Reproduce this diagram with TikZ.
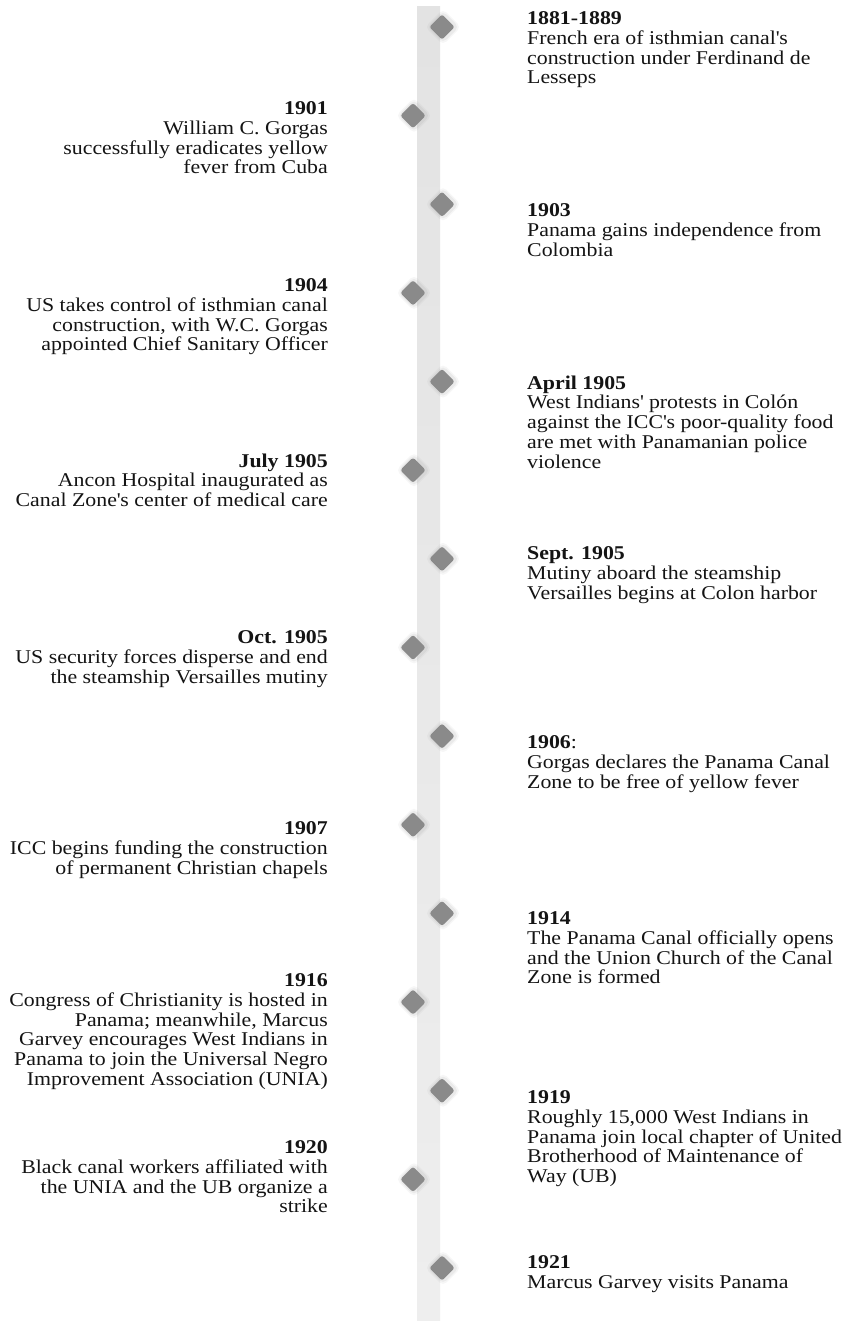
\documentclass[tikz,border=0pt]{standalone}
\usepackage{fontspec}
\setmainfont{Liberation Serif}[FakeStretch=1.12]
\definecolor{bartop}{HTML}{E3E3E3}
\definecolor{barbot}{HTML}{EEEEEE}
\definecolor{gemfill}{HTML}{8A8A8A}
\definecolor{ink}{HTML}{141414}
\newcommand{\ap}{\textquotesingle}
\tikzset{
  evtxt/.style={inner sep=0pt, text=ink, font=\fontsize{19.5}{19.7}\selectfont},
  evR/.style={evtxt, anchor=north west, align=left},
  evL/.style={evtxt, anchor=north east, align=right},
  gem/.style={rectangle, rotate=45, minimum size=18pt, inner sep=0pt, fill=gemfill, rounded corners=2.5pt},
  halo/.style={fill=gemfill, rounded corners=5pt}
}
\begin{document}
\begin{tikzpicture}[x=1pt,y=-1pt]
\useasboundingbox (0,0) rectangle (844,1321);
\fill[white] (0,0) rectangle (844,1321);
% timeline bar
\shade[top color=bartop, bottom color=barbot] (417,7) rectangle (440,1321);
% diamonds
\foreach \i in {0,...,14}{
  \pgfmathsetmacro\yy{27+88.64*\i}
  \pgfmathsetmacro\xx{isodd(\i) ? 413 : 442}
  \fill[halo, opacity=0.07] (\xx+1,\yy-18) -- (\xx+19,\yy) -- (\xx+1,\yy+18) -- (\xx-17,\yy) -- cycle;
  \fill[halo, opacity=0.10] (\xx+1,\yy-16) -- (\xx+17,\yy) -- (\xx+1,\yy+16) -- (\xx-15,\yy) -- cycle;
  \node[gem] (d\i) at (\xx,\yy) {};
}
% right-hand events (y = top of first line)
\node[evR] (r1) at (527,11.5) {\textbf{1881-1889}\\French era of isthmian canal\ap s\\construction under Ferdinand de\\Lesseps};
\node[evR] (r2) at (527,203.5) {\textbf{1903}\\Panama gains independence from\\Colombia};
\node[evR] (r3) at (527,375.5) {\textbf{April 1905}\\West Indians\ap{} protests in Colón\\against the ICC\ap s poor-quality food\\are met with Panamanian police\\violence};
\node[evR] (r4) at (527,546.5) {\textbf{Sept. 1905}\\Mutiny aboard the steamship\\Versailles begins at Colon harbor};
\node[evR] (r5) at (527,735.5) {\textbf{1906}:\\Gorgas declares the Panama Canal\\Zone to be free of yellow fever};
\node[evR] (r6) at (527,911.5) {\textbf{1914}\\The Panama Canal officially opens\\and the Union Church of the Canal\\Zone is formed};
\node[evR] (r7) at (527,1090.5) {\textbf{1919}\\Roughly 15,000 West Indians in\\Panama join local chapter of United\\Brotherhood of Maintenance of\\Way (UB)};
\node[evR] (r8) at (527,1255.5) {\textbf{1921}\\Marcus Garvey visits Panama};
% left-hand events
\node[evL] (l1) at (328,101.5) {\textbf{1901}\\William C. Gorgas\\successfully eradicates yellow\\fever from Cuba};
\node[evL] (l2) at (328,278.5) {\textbf{1904}\\US takes control of isthmian canal\\construction, with W.C. Gorgas\\appointed Chief Sanitary Officer};
\node[evL] (l3) at (328,453.5) {\textbf{July 1905}\\Ancon Hospital inaugurated as\\Canal Zone\ap s center of medical care};
\node[evL] (l4) at (328,630.5) {\textbf{Oct. 1905}\\US security forces disperse and end\\the steamship Versailles mutiny};
\node[evL] (l5) at (328,821.5) {\textbf{1907}\\ICC begins funding the construction\\of permanent Christian chapels};
\node[evL] (l6) at (328,973.5) {\textbf{1916}\\Congress of Christianity is hosted in\\Panama; meanwhile, Marcus\\Garvey encourages West Indians in\\Panama to join the Universal Negro\\Improvement Association (UNIA)};
\node[evL] (l7) at (328,1140.5) {\textbf{1920}\\Black canal workers affiliated with\\the UNIA and the UB organize a\\strike};
\end{tikzpicture}
\end{document}
